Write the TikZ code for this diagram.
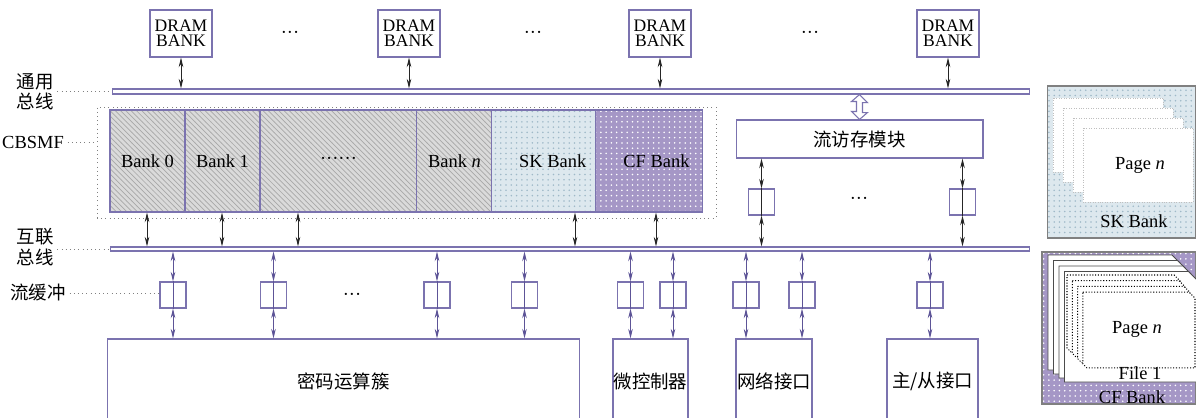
\documentclass[tikz,border=0pt]{standalone}
\usepackage{fontspec}
\setmainfont{Liberation Serif}
\newfontfamily\cjk{Noto Sans CJK SC}
\usetikzlibrary{positioning,arrows.meta,patterns}

\definecolor{bordc}{HTML}{7B73AF}
\definecolor{arrc}{HTML}{5D5497}
\definecolor{hatchbg}{HTML}{DADADA}
\definecolor{hatchfg}{HTML}{A8A8A8}
\definecolor{skbg}{HTML}{DDE8EE}
\definecolor{skdot}{HTML}{9FB9C8}
\definecolor{cfbg}{HTML}{A597C6}

\begin{document}
\begin{tikzpicture}[x=0.02cm, y=-0.02cm, font=\fontsize{10.5}{12}\selectfont,
    box/.style={draw=bordc, line width=0.6pt, inner sep=0pt},
    dram/.style={box, fill=white, minimum width=1.24cm, minimum height=0.94cm, align=center, font=\fontsize{10}{8.6}\selectfont},
    bus/.style={box, fill=white},
    bank/.style={box, minimum height=2.04cm, preaction={fill=hatchbg}, pattern=north west lines, pattern color=hatchfg},
    skbank/.style={box, minimum height=2.04cm, preaction={fill=skbg}, pattern=dots, pattern color=skdot},
    cfbank/.style={box, minimum height=2.04cm, preaction={fill=cfbg}, pattern=dots, pattern color=white},
    buf/.style={box, minimum width=0.52cm, minimum height=0.52cm},
    unit/.style={box, fill=white, minimum height=1.68cm, font=\cjk\fontsize{10.5}{12}\selectfont},
    tag/.style={inner sep=2pt, align=center, font=\cjk\fontsize{10.5}{11.5}\selectfont},
    guide/.style={dotted, gray},
    barr/.style={{Stealth[length=5.5pt,width=2.6pt]}-{Stealth[length=5.5pt,width=2.6pt]}, line width=0.5pt, black!85},
    parr/.style={barr, arrc},
    skpage/.style={fill=white, draw=gray!50, densely dotted},
    cfpage/.style={fill=white, draw=black!70, line width=0.5pt},
    cfsheet/.style={fill=white, draw=black, densely dotted, line width=0.6pt}]
    \useasboundingbox (0,0) rectangle (1196,417);

    % buses
    \node[bus, minimum width=18.36cm, minimum height=0.1cm] (gbus) at (571,91.5) {};
    \node[bus, minimum width=18.4cm, minimum height=0.08cm] (ibus) at (570,249) {};

    % DRAM banks on the general bus
    \foreach \x [count=\k] in {181,409,660,948} {
        \node[dram] (dram\k) at (\x,33.5) {DRAM\\BANK};
        \draw[barr] (dram\k.south) -- (dram\k.south |- gbus.north);
    }
    \node (dd1) at (290,35) {···};
    \node (dd2) at (533,35) {···};
    \node (dd3) at (810,35) {···};

    % CBSMF banks
    \node[draw=gray, dotted, minimum width=12.38cm, minimum height=2.22cm] (cbsmf) at (406.5,162.5) {};
    \node[bank, minimum width=1.5cm] (b0) at (147.5,161) {Bank 0};
    \node[bank, minimum width=1.5cm, right=-0.6pt of b0] (b1) {Bank 1};
    \node[bank, minimum width=3.14cm, right=-0.6pt of b1] (bd) {······};
    \node[bank, minimum width=1.5cm, right=-0.6pt of bd] (bn) {Bank \textit{n}};
    \node[skbank, minimum width=2.08cm, right=-0.6pt of bn] (bsk) {\hspace{10pt}SK Bank};
    \node[cfbank, minimum width=2.14cm, right=-0.6pt of bsk] (bcf) {\hspace{8pt}CF Bank};
    \foreach \x/\b in {147/b0, 222/b1, 298/bd, 575/bsk, 656/bcf}
        \draw[barr] (\x,0 |- \b.south) -- (\x,0 |- ibus.north);

    % stream access module
    \node[box, fill=white, minimum width=4.94cm, minimum height=0.76cm, font=\cjk\fontsize{10.5}{12}\selectfont] (flow) at (859.5,139) {流访存模块};
    \draw[box, fill=white] (gbus.south -| flow.north) -- ++(8,8) -- ++(-5,0) -- ++(0,10) -- ++(5,0)
        -- (flow.north) -- ++(-8,-8) -- ++(5,0) -- ++(0,-10) -- ++(-5,0) -- cycle;
    \foreach \x [count=\k] in {761.5,962.5} {
        \node[buf] (fbuf\k) at (\x,202) {};
        \draw[barr] (fbuf\k.north |- flow.south) -- (fbuf\k.north);
        \draw[black!85, line width=0.5pt] (fbuf\k.north) -- (fbuf\k.south);
        \draw[barr] (fbuf\k.south) -- (fbuf\k.south |- ibus.north);
    }
    \node (fd) at (859,201) {···};

    % processing units
    \node[unit, minimum width=9.46cm] (crypto) at (343.5,381) {密码运算簇\hspace{17pt}};
    \node[unit, minimum width=1.5cm] (mcu) at (650.5,381) {微控制器};
    \node[unit, minimum width=1.52cm] (net) at (774,381) {网络接口};
    \node[unit, minimum width=1.82cm] (host) at (932.5,381) {主/从接口};

    % stream buffers
    \foreach \x/\u [count=\k] in {173/crypto, 273.5/crypto, 437/crypto, 524.5/crypto, 630.5/mcu, 673/mcu, 746/net, 802/net, 930/host} {
        \node[buf] (buf\k) at (\x,295) {};
        \draw[parr] (buf\k.north |- ibus.south) -- (buf\k.north);
        \draw[arrc, line width=0.5pt] (buf\k.north) -- (buf\k.south);
        \draw[parr] (buf\k.south) -- (buf\k.south |- \u.north);
    }
    \node (bdots) at (352,297) {···};

    % side labels
    \node[tag] (lgbus) at (35,92) {通用\\总线};
    \node[tag, font=\fontsize{10.5}{12}\selectfont] (lcbsmf) at (33,142) {CBSMF};
    \node[tag] (libus) at (35,247) {互联\\总线};
    \node[tag] (lbuf) at (38,293) {流缓冲};
    \draw[guide] (lgbus.east |- gbus.west) -- (gbus.west);
    \draw[guide] (lcbsmf.east) -- (lcbsmf.east -| cbsmf.west);
    \draw[guide] (libus.east |- ibus.west) -- (ibus.west);
    \draw[guide] (lbuf.east) -- (lbuf.east -| buf1.west);

    % SK Bank detail
    \node[box, draw=gray, minimum width=2.97cm, minimum height=3.04cm, preaction={fill=skbg}, pattern=dots, pattern color=skdot] (skin) at (1121.25,162) {};
    \begin{scope}
        \clip (skin.south west) rectangle (skin.north east);
        \foreach \i in {0,...,3}
            \draw[skpage] (1053+10*\i,98+10*\i) rectangle (1163+10*\i,172+10*\i);
    \end{scope}
    \node (skpg) at (1140,165) {Page \textit{n}};
    \node (sklab) at (1134,221) {SK Bank};

    % CF Bank detail
    \node[box, draw=gray, minimum width=3.07cm, minimum height=3.04cm, preaction={fill=cfbg}, pattern=dots, pattern color=white] (cfin) at (1118.75,328) {};
    \begin{scope}
        \clip (cfin.south west) rectangle (cfin.north east);
        \foreach \i in {0,...,3}
            \draw[cfpage] (1048+5.5*\i,255+5.5*\i) -- (1172+5.5*\i,255+5.5*\i) -- (1180+5.5*\i,263+5.5*\i)
                -- (1180+5.5*\i,370+4*\i) -- (1048+5.5*\i,370+4*\i) -- cycle;
        \foreach \j in {0,...,3}
            \draw[cfsheet] (1067+5.3*\j,275+5.7*\j) -- (1174+5*\j,275+5.7*\j) -- (1180+5*\j,281+5.7*\j)
                -- (1180+5*\j,352+5.3*\j) -- (1071+5.3*\j,352+5.3*\j) -- (1067+5.3*\j,348+5.3*\j) -- cycle;
    \end{scope}
    \draw[gray, line width=0.6pt] (cfin.south west) rectangle (cfin.north east);
    \node (cfpg) at (1137,329) {Page \textit{n}};
    \node (cffile) at (1140,373) {File 1};
    \node (cflab) at (1132,397) {CF Bank};
\end{tikzpicture}
\end{document}
